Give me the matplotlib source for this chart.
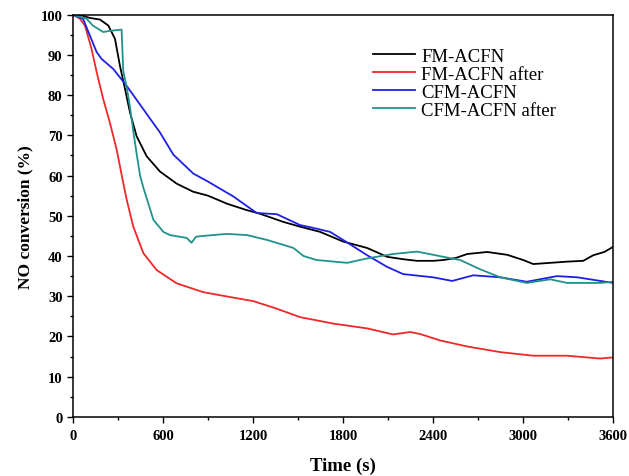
import numpy as np
import matplotlib
matplotlib.use("Agg")
import matplotlib.pyplot as plt
import matplotlib as mpl

mpl.rcParams.update({
    'font.family': 'serif',
    'font.serif': ['Liberation Serif', 'Times New Roman', 'DejaVu Serif'],
    'xtick.direction': 'out',
    'ytick.direction': 'out',
})

# FM-ACFN
t_fm = [0, 60, 113, 180, 236, 280, 313, 347, 380, 424, 491, 580, 691, 800, 900,
        1027, 1150, 1247, 1400, 1513, 1647, 1800, 1960, 2093, 2200, 2293, 2400,
        2467, 2550, 2627, 2760, 2893, 3000, 3067, 3180, 3293, 3400, 3467, 3540, 3600]
v_fm = [100, 99.8, 99.2, 98.8, 97.3, 94, 87.3, 81.5, 75.7, 69.8, 64.8, 61, 58, 56, 55,
        53, 51.5, 50.5, 48.5, 47.3, 46, 43.6, 42, 39.8, 39.2, 38.8, 38.8,
        39, 39.5, 40.5, 41, 40.3, 39, 38, 38.3, 38.6, 38.8, 40.2, 41, 42.3]

# FM-ACFN after
t_fm_after = [0, 47, 80, 124, 158, 202, 247, 291, 336, 358, 402, 469, 558, 691, 869,
              1091, 1200, 1350, 1513, 1733, 1960, 2133, 2247, 2313, 2447, 2627, 2847,
              3067, 3293, 3513, 3600]
v_fm_after = [100, 99, 97.3, 91.5, 85.7, 79, 73, 66.5, 58, 54, 47.3, 40.7, 36.5, 33.2, 31,
              29.5, 28.8, 27, 24.8, 23.2, 22, 20.5, 21.1, 20.6, 19, 17.5, 16.1,
              15.2, 15.2, 14.5, 14.8]

# CFM-ACFN
t_cfm = [0, 67, 113, 158, 191, 269, 358, 469, 580, 669, 802, 900, 1069, 1224, 1358,
         1513, 1600, 1713, 1800, 1960, 2093, 2200, 2400, 2527, 2667, 2847, 3024, 3224,
         3360, 3600]
v_cfm = [100, 99, 94.8, 90.7, 89, 86.5, 82.3, 76.5, 70.7, 65.2, 60.5, 58.5, 54.8, 50.7, 50.4,
         47.7, 47, 46, 44, 40.2, 37.3, 35.5, 34.7, 33.8, 35.2, 34.7, 33.6, 35,
         34.7, 33.3]

# CFM-ACFN after
t_cfm_after = [0, 91, 133, 202, 247, 324, 335, 358, 380, 402, 424, 447, 469, 536, 602,
               647, 758, 790, 820, 869, 1024, 1160, 1293, 1469, 1536, 1624, 1827, 1960,
               2133, 2293, 2467, 2580, 2713, 2847, 3024, 3180, 3293, 3513, 3600]
v_cfm_after = [100, 99, 97.3, 95.7, 96, 96.3, 86, 82, 77, 71, 65.5, 60, 57, 49, 46,
               45.2, 44.5, 43.3, 44.8, 45, 45.5, 45.2, 44, 42, 40, 39, 38.3, 39.4,
               40.5, 41.1, 39.8, 39, 36.7, 34.7, 33.3, 34.2, 33.3, 33.3, 33.6]

series = [
    (t_fm, v_fm, 'FM-ACFN', 'black'),
    (t_fm_after, v_fm_after, 'FM-ACFN after', '#f02828'),
    (t_cfm, v_cfm, 'CFM-ACFN', '#1f1fe6'),
    (t_cfm_after, v_cfm_after, 'CFM-ACFN after', '#21928a'),
]

fig = plt.figure(figsize=(6.29, 4.77), dpi=100)
ax = fig.add_axes([0.116, 0.124, 0.859, 0.843])

for t, v, label, color in series:
    ax.plot(t, v, '-', color=color, lw=1.3, label=label)

ax.set_xlim(0, 3600)
ax.set_ylim(0, 100)
ax.set_xticks(np.arange(0, 3601, 600))
ax.set_xticks(np.arange(300, 3600, 600), minor=True)
ax.set_yticks(np.arange(0, 101, 10))
ax.set_yticks(np.arange(5, 100, 10), minor=True)
ax.tick_params(which='major', length=4, width=1.0, labelsize=10.5)
ax.tick_params(axis='x', which='major', pad=5)
ax.tick_params(which='minor', length=2.5, width=1.0)
for lab in ax.get_xticklabels() + ax.get_yticklabels():
    lab.set_fontweight('bold')
for sp in ax.spines.values():
    sp.set_linewidth(1.1)

ax.set_xlabel('Time (s)', fontsize=13.5, fontweight='bold', labelpad=10)
ax.set_ylabel('NO conversion (%)', fontsize=12.5, fontweight='bold', labelpad=5)

ax.legend(loc='upper left', bbox_to_anchor=(0.556, 0.918), frameon=False,
          borderpad=0, borderaxespad=0,
          fontsize=13.5, handlelength=2.2, handletextpad=0.35, labelspacing=0.05)

fig.savefig('out.png', dpi=100)
